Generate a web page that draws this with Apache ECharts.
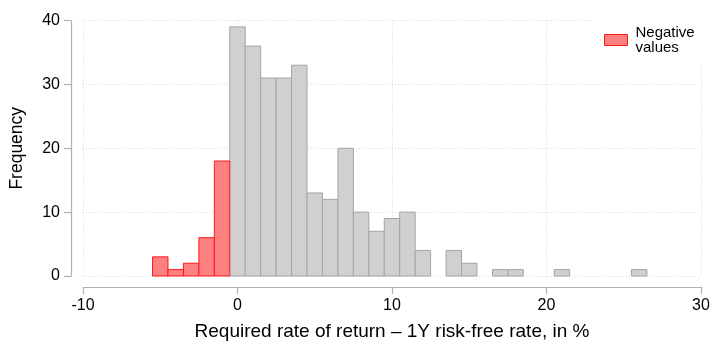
<!DOCTYPE html>
<html>
<head>
<meta charset="utf-8">
<script src="https://cdn.jsdelivr.net/npm/echarts@6/dist/echarts.min.js"></script>
<style>
  html, body { margin: 0; padding: 0; background: #ffffff; }
  #chart { width: 712px; height: 341px; }
</style>
</head>
<body>
<div id="chart"></div>
<script>
// Histogram of required return minus 1Y risk-free rate (bins are 1 point wide)
const binWidth = 1;

// Bins below zero
const negCenters = [-5, -4, -3, -2, -1];
const negCounts  = [3, 1, 2, 6, 18];

// Bins from zero upward
const posCenters = [0, 1, 2, 3, 4, 5, 6, 7, 8, 9, 10, 11, 12, 13, 14, 15, 16, 17, 18, 19, 20, 21, 22, 23, 24, 25, 26];
const posCounts  = [39, 36, 31, 31, 33, 13, 12, 20, 10, 7, 9, 10, 4, 0, 4, 2, 0, 1, 1, 0, 0, 1, 0, 0, 0, 0, 1];

// Axis tick labels
const xTicks = [-10, 0, 10, 20, 30];
const yTicks = [0, 10, 20, 30, 40];

const FONT = '"Liberation Sans", Arial, Helvetica, sans-serif';
const NEG_NAME = 'Negative values';

function pairs(centers, counts) {
  return centers.map((c, i) => [c, counts[i]]);
}

function binRenderer(fill, stroke) {
  return function (params, api) {
    const c = api.value(0);
    const n = api.value(1);
    if (!n) return null;
    const topLeft = api.coord([c - binWidth / 2, n]);
    const bottomRight = api.coord([c + binWidth / 2, 0]);
    return {
      type: 'rect',
      shape: {
        x: topLeft[0],
        y: topLeft[1],
        width: bottomRight[0] - topLeft[0],
        height: bottomRight[1] - topLeft[1]
      },
      style: { fill: fill, stroke: stroke, lineWidth: 1 }
    };
  };
}

const chart = echarts.init(document.getElementById('chart'), null, { renderer: 'canvas' });

const axisGrey = '#b0b0b0';
const gridDots = { color: '#dadada', type: [1, 2], width: 1 };

chart.setOption({
  animation: false,
  backgroundColor: '#ffffff',
  textStyle: { fontFamily: FONT, color: '#000' },
  grid: { left: 83, right: 11, top: 20.5, bottom: 65, containLabel: false, outerBoundsMode: 'none' },
  xAxis: {
    type: 'value',
    min: xTicks[0],
    max: xTicks[xTicks.length - 1],
    interval: xTicks[1] - xTicks[0],
    offset: 11,
    name: 'Required rate of return \u2013 1Y risk-free rate, in %',
    nameLocation: 'middle',
    nameGap: 35,
    nameTextStyle: { fontSize: 19, color: '#000', fontFamily: FONT },
    axisLine: { show: true, onZero: false, lineStyle: { color: axisGrey, width: 1.2 } },
    axisTick: { show: true, length: 7, lineStyle: { color: axisGrey, width: 1.2 } },
    axisLabel: { fontSize: 16, color: '#000', margin: 11, fontFamily: FONT },
    splitLine: { show: true, lineStyle: gridDots }
  },
  yAxis: {
    type: 'value',
    min: yTicks[0],
    max: yTicks[yTicks.length - 1],
    interval: yTicks[1] - yTicks[0],
    offset: 12,
    name: 'Frequency',
    nameLocation: 'middle',
    nameGap: 45,
    nameTextStyle: { fontSize: 17.5, color: '#000', fontFamily: FONT },
    axisLine: { show: true, onZero: false, lineStyle: { color: axisGrey, width: 1.2 } },
    axisTick: { show: true, length: 7, lineStyle: { color: axisGrey, width: 1.2 } },
    axisLabel: { fontSize: 16, color: '#000', margin: 11, fontFamily: FONT },
    splitLine: { show: true, lineStyle: gridDots }
  },
  legend: {
    left: 592,
    top: 19,
    padding: [5, 10, 9, 12],
    backgroundColor: '#ffffff',
    itemWidth: 23,
    itemHeight: 11,
    data: [{
      name: NEG_NAME,
      icon: 'rect',
      itemStyle: { color: '#ff8080', borderColor: '#ff1a1a', borderWidth: 1 }
    }],
    formatter: function () { return 'Negative\nvalues'; },
    textStyle: { fontSize: 15, lineHeight: 15, color: '#000', fontFamily: FONT, padding: [2, 0, 0, 3] },
    selectedMode: false
  },
  series: [
    {
      name: 'Non-negative values',
      type: 'custom',
      renderItem: binRenderer('#d0d0d0', '#a4a4a4'),
      encode: { x: 0, y: 1 },
      data: pairs(posCenters, posCounts),
      z: 3
    },
    {
      name: NEG_NAME,
      type: 'custom',
      renderItem: binRenderer('#ff8080', '#ff1a1a'),
      itemStyle: { color: '#ff8080', borderColor: '#ff1a1a', borderWidth: 1 },
      encode: { x: 0, y: 1 },
      data: pairs(negCenters, negCounts),
      z: 3
    }
  ]
});
</script>
</body>
</html>
